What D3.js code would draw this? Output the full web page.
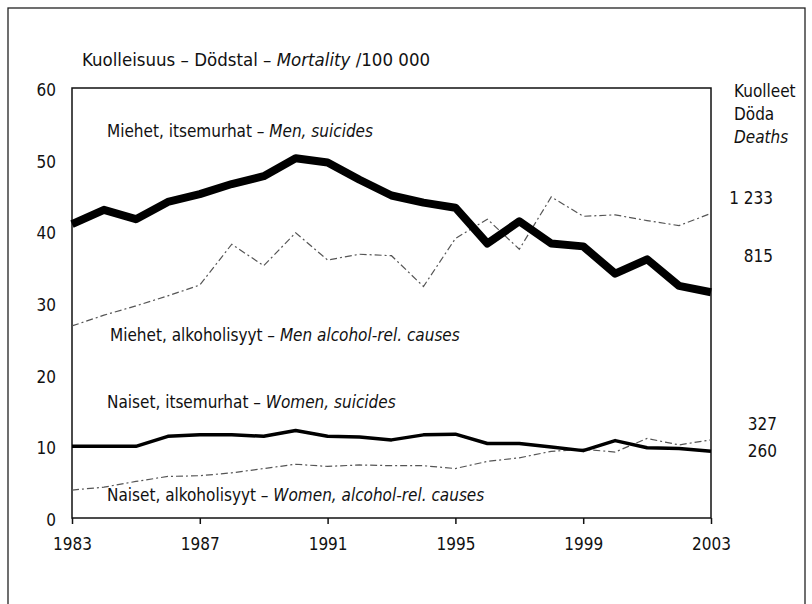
<!DOCTYPE html>
<html><head><meta charset="utf-8">
<script src="https://cdn.jsdelivr.net/npm/d3@7"></script>
<style>
html,body{margin:0;padding:0;background:#fff;}
svg text{font-family:"DejaVu Sans Condensed","DejaVu Sans",sans-serif;font-stretch:condensed;fill:#111;}
</style></head>
<body><svg id="c" width="812" height="604"></svg>
<script>
const years = d3.range(1983, 2004);
const menSuicides   = [41.0, 43.0, 41.7, 44.1, 45.2, 46.6, 47.7, 50.2, 49.6, 47.2, 45.0, 44.0, 43.3, 38.3, 41.4, 38.3, 37.9, 34.1, 36.1, 32.4, 31.5];
const menAlcohol    = [26.8, 28.3, 29.6, 31.0, 32.5, 38.2, 35.2, 39.8, 36.0, 36.8, 36.6, 32.3, 39.0, 41.7, 37.5, 44.8, 42.1, 42.3, 41.5, 40.8, 42.5];
const womenSuicides = [10.0, 10.0, 10.0, 11.4, 11.6, 11.6, 11.4, 12.2, 11.4, 11.3, 10.9, 11.6, 11.7, 10.4, 10.4, 9.9, 9.4, 10.8, 9.8, 9.7, 9.3];
const womenAlcohol  = [3.9, 4.3, 5.1, 5.8, 5.9, 6.3, 6.9, 7.5, 7.2, 7.4, 7.3, 7.3, 6.9, 7.9, 8.4, 9.3, 9.6, 9.2, 11.1, 10.2, 10.9];
const yTicks = [0, 10, 20, 30, 40, 50, 60];
const xTicks = [1983, 1987, 1991, 1995, 1999, 2003];
const seriesLabels = [
  {fi: "Miehet, itsemurhat – ", en: "Men, suicides"},
  {fi: "Miehet, alkoholisyyt – ", en: "Men alcohol-rel. causes"},
  {fi: "Naiset, itsemurhat – ", en: "Women, suicides"},
  {fi: "Naiset, alkoholisyyt – ", en: "Women, alcohol-rel. causes"}
];
const deaths = ["1 233", "815", "327", "260"];
const deathsHeader = ["Kuolleet", "Döda", "Deaths"];

const svg = d3.select("#c");
const L = 72, R = 711, T = 88, B = 518;
const x = d3.scaleLinear().domain([1983, 2003]).range([L, R]);
const y = d3.scaleLinear().domain([0, 60]).range([B, T]);

// outer frame
svg.append("rect").attr("x", 8).attr("y", 8).attr("width", 797).attr("height", 620)
  .attr("fill", "none").attr("stroke", "#222").attr("stroke-width", 1.3);

// title
const title = svg.append("text").attr("x", 82).attr("y", 66).attr("font-size", 18.5);
title.append("tspan").text("Kuolleisuus – Dödstal – ");
title.append("tspan").attr("font-style", "italic").text("Mortality");
title.append("tspan").text(" /100 000");

// plot box
svg.append("rect").attr("x", L).attr("y", T).attr("width", R - L).attr("height", B - T)
  .attr("fill", "none").attr("stroke", "#111").attr("stroke-width", 1.5);

// axes
const yAxis = svg.append("g").attr("transform", `translate(${L},0)`)
  .call(d3.axisLeft(y).tickValues(yTicks).tickSize(0).tickPadding(16));
yAxis.select(".domain").remove();
yAxis.selectAll("text").attr("font-size", 17).attr("fill", "#111").attr("dy", "0.45em");

const xAxis = svg.append("g").attr("transform", `translate(0,${B})`)
  .call(d3.axisBottom(x).tickValues(xTicks).tickFormat(d3.format("d")).tickSize(6).tickPadding(14));
xAxis.select(".domain").remove();
xAxis.selectAll("line").attr("stroke", "#111").attr("stroke-width", 1.5);
xAxis.selectAll("text").attr("font-size", 17).attr("fill", "#111");

const line = d3.line().x((d, i) => x(years[i])).y(d => y(d));

const g = svg.append("g");
g.append("path").datum(menAlcohol).attr("d", line).attr("fill", "none")
  .attr("stroke", "#555").attr("stroke-width", 1.2).attr("stroke-dasharray", "7,3,2,3");
g.append("path").datum(womenAlcohol).attr("d", line).attr("fill", "none")
  .attr("stroke", "#555").attr("stroke-width", 1.2).attr("stroke-dasharray", "7,3,2,3");
g.append("path").datum(womenSuicides).attr("d", line).attr("fill", "none")
  .attr("stroke", "#000").attr("stroke-width", 3.5).attr("stroke-linejoin", "round");
g.append("path").datum(menSuicides).attr("d", line).attr("fill", "none")
  .attr("stroke", "#000").attr("stroke-width", 8).attr("stroke-linejoin", "round");

// series labels
const labelPos = [[107, 137], [110, 341], [107, 408], [107, 501]];
seriesLabels.forEach((s, i) => {
  const t = svg.append("text").attr("x", labelPos[i][0]).attr("y", labelPos[i][1]).attr("font-size", 17);
  t.append("tspan").text(s.fi);
  t.append("tspan").attr("font-style", "italic").text(s.en);
});

// deaths header
deathsHeader.forEach((h, i) => {
  svg.append("text").attr("x", 734).attr("y", 97 + i * 23).attr("font-size", 17)
    .attr("font-style", i === 2 ? "italic" : null).text(h);
});
const deathY = [204, 262, 430, 457];
deaths.forEach((d, i) => {
  svg.append("text").attr("x", i < 2 ? 773 : 777).attr("y", deathY[i]).attr("font-size", 17)
    .attr("text-anchor", "end").text(d);
});
</script></body></html>
